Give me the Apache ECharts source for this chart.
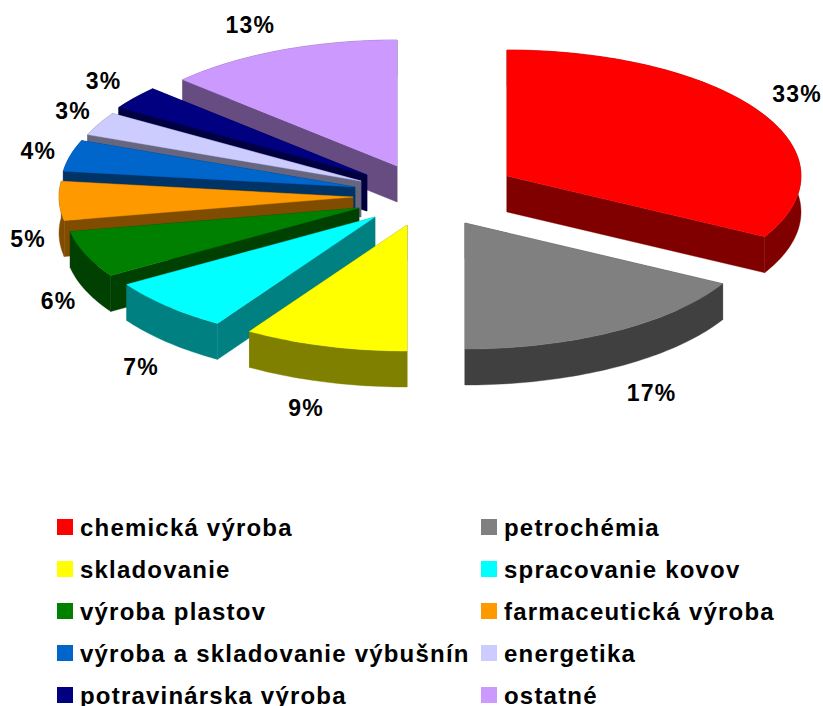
<!DOCTYPE html>
<html>
<head>
<meta charset="utf-8">
<style>
html,body{margin:0;padding:0;background:#fff}
#chart{width:823px;height:706px}
#chart text{letter-spacing:1.2px}
</style>
<script src="https://cdn.jsdelivr.net/npm/echarts@6/dist/echarts.min.js"></script>
</head>
<body>
<div id="chart"></div>
<script>
// --- data ---
var categories = ['chemická výroba','petrochémia','skladovanie','spracovanie kovov','výroba plastov','farmaceutická výroba','výroba a skladovanie výbušnín','energetika','potravinárska výroba','ostatné'];
var shares = [33,17,9,7,6,5,4,3,3,13];
// --- styles ---
var topColors  = ['#FF0000','#808080','#FFFF00','#00FFFF','#008000','#FF9900','#0066CC','#CCCCFF','#000080','#CC99FF'];
var wallColors = ['#800000','#404040','#808000','#008080','#004000','#804C00','#003366','#666680','#000040','#664C80'];
// --- layout: exploded apex of every slice, and label nudges from the rim ---
var apexes = [[507,176],[465,223],[407,225],[375,217],[359,208],[353,197],[355,187],[361,181],[367,175],[397,166]];
var labelNudge = [[37,-18],[37,62],[-19,62],[-26,61],[-27,47],[-31,38],[-32,-5],[-26,-13],[-31,-17],[-30,-25]];
var rx = 294, ry = 126, depth = 36;
var fontFamily = '"Liberation Sans", Arial, sans-serif';

var total = shares.reduce(function(a,b){return a+b;},0);
function rim(apex, frac, dy){
  var t = frac*2*Math.PI;
  return [apex[0]+rx*Math.sin(t), apex[1]-ry*Math.cos(t)+(dy||0)];
}
function poly(points, fill){
  return {type:'polygon', shape:{points:points}, style:{fill:fill, stroke:fill, lineWidth:0.4}, silent:true};
}
function makeRender(i){
  return function(params, api){
    var value = api.value(0);
    var before = 0;
    for (var k=0;k<i;k++) before += shares[k];
    var f0 = before/total, f1 = (before+value)/total;
    var a = apexes[i], steps = Math.max(6, Math.round(value*3));
    var arc = [], low = [];
    for (var s=0;s<=steps;s++){
      var f = f0+(f1-f0)*s/steps;
      arc.push(rim(a,f)); low.push(rim(a,f,depth));
    }
    var aLow = [a[0],a[1]+depth];
    var mid = rim(a,(f0+f1)/2);
    var n = labelNudge[i];
    return {type:'group', children:[
      poly([a,arc[0],low[0],aLow], wallColors[i]),
      poly([a,arc[steps],low[steps],aLow], wallColors[i]),
      poly(arc.concat(low.slice().reverse()), wallColors[i]),
      poly([a].concat(arc), topColors[i]),
      {type:'text', silent:true, style:{
        x:mid[0]+n[0], y:mid[1]+n[1], text:Math.round(value/total*100)+'%',
        fill:'#000', font:'bold 23px '+fontFamily, textAlign:'center', textVerticalAlign:'middle'
      }}
    ]};
  };
}
var series = [];
for (var i=categories.length-1;i>=0;i--){
  series.push({
    type:'custom', name:categories[i], coordinateSystem:'none',
    data:[[shares[i]]], renderItem:makeRender(i),
    itemStyle:{color:topColors[i]}, animation:false, silent:true
  });
}
function legendCol(left, start){
  var names = categories.filter(function(_,j){return j%2===start;});
  return {
    orient:'vertical', left:left, top:515, height:300, padding:0, data:names, selectedMode:false,
    icon:'rect', itemWidth:16, itemHeight:16, itemGap:18,
    textStyle:{color:'#000', fontFamily:fontFamily, fontWeight:'bold', fontSize:24, lineHeight:22, padding:[0,0,2,2]}
  };
}
var chart = echarts.init(document.getElementById('chart'), null, {renderer:'svg'});
chart.setOption({
  backgroundColor:'#fff', animation:false,
  legend:[legendCol(57,0), legendCol(481,1)],
  series:series
});
</script>
</body>
</html>
